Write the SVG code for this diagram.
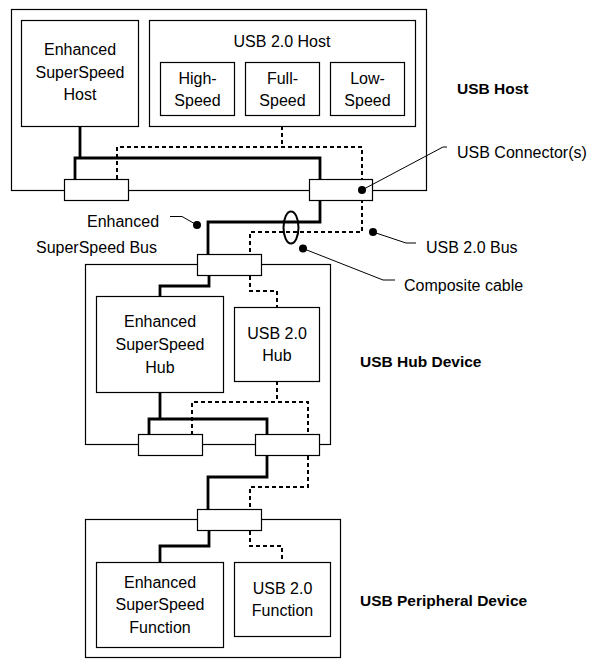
<svg xmlns="http://www.w3.org/2000/svg" width="608" height="667" viewBox="0 0 608 667">
<style>
.box{fill:#fff;stroke:#000;stroke-width:1.2}
.t{font-family:"Liberation Sans",Arial,sans-serif;font-size:16px;fill:#000}
.c{text-anchor:middle}
.b{font-weight:bold;font-size:15.5px}
.thick{fill:none;stroke:#000;stroke-width:2.8}
.dash{fill:none;stroke:#000;stroke-width:2;stroke-dasharray:4,3}
.lead{fill:none;stroke:#000;stroke-width:1}
.dot{fill:#000}
</style>
<rect width="608" height="667" fill="#fff"/>
<g id="usb-host">
<rect class="box" x="11.5" y="9.5" width="415" height="181"/>
<text class="t b" x="457" y="94">USB Host</text>
</g>
<g id="hub-device">
<rect class="box" x="85.5" y="264.5" width="245" height="180"/>
<text class="t b" x="360" y="367">USB Hub Device</text>
</g>
<g id="peripheral-device">
<rect class="box" x="85.5" y="519.5" width="255" height="138"/>
<text class="t b" x="360" y="606">USB Peripheral Device</text>
</g>
<g id="connectors">
<path class="thick" d="M80,126 V158 M75,180 V158 H320 V222 H208 V255"/>
<path class="dash" d="M282,126 V147 M117,179 V147 H362 V232 H250 V291 H277 V308"/>
<path class="thick" d="M209,275 V286 H160 V297"/>
<path class="thick" d="M160,392 V419 M149,435 V419 H267 V435"/>
<path class="dash" d="M277,381 V402 M192,435 V402 H308 V487 H250 V546 H282 V560"/>
<path class="thick" d="M267,455 V477 H208 V510"/>
<path class="thick" d="M209,530 V546 H160 V563"/>
</g>
<g id="host-connector-left"><rect class="box" x="64.5" y="179.5" width="64" height="21"/></g>
<g id="host-connector-right"><rect class="box" x="309.5" y="179.5" width="63" height="21"/></g>
<g id="hub-connector-top"><rect class="box" x="197.5" y="254.5" width="64" height="21"/></g>
<g id="hub-connector-left"><rect class="box" x="138.5" y="434.5" width="64" height="21"/></g>
<g id="hub-connector-right"><rect class="box" x="255.5" y="434.5" width="64" height="21"/></g>
<g id="peripheral-connector"><rect class="box" x="197.5" y="509.5" width="64" height="21"/></g>
<g id="ess-host">
<rect class="box" x="21.5" y="20.5" width="117" height="106"/>
<text class="t c" x="80" y="55">Enhanced</text>
<text class="t c" x="80" y="78">SuperSpeed</text>
<text class="t c" x="80" y="100">Host</text>
</g>
<g id="usb2-host">
<rect class="box" x="149.5" y="20.5" width="266" height="106"/>
<text class="t c" x="282" y="47">USB 2.0 Host</text>
</g>
<g id="high-speed">
<rect class="box" x="160.5" y="62.5" width="74" height="53"/>
<text class="t c" x="197.5" y="84">High-</text>
<text class="t c" x="197.5" y="106">Speed</text>
</g>
<g id="full-speed">
<rect class="box" x="245.5" y="62.5" width="74" height="53"/>
<text class="t c" x="282.5" y="84">Full-</text>
<text class="t c" x="282.5" y="106">Speed</text>
</g>
<g id="low-speed">
<rect class="box" x="330.5" y="62.5" width="74" height="53"/>
<text class="t c" x="367.5" y="84">Low-</text>
<text class="t c" x="367.5" y="106">Speed</text>
</g>
<g id="ess-hub">
<rect class="box" x="96.5" y="296.5" width="127" height="96"/>
<text class="t c" x="160" y="327">Enhanced</text>
<text class="t c" x="160" y="350">SuperSpeed</text>
<text class="t c" x="160" y="373">Hub</text>
</g>
<g id="usb2-hub">
<rect class="box" x="234.5" y="307.5" width="85" height="74"/>
<text class="t c" x="277" y="339">USB 2.0</text>
<text class="t c" x="277" y="361">Hub</text>
</g>
<g id="ess-function">
<rect class="box" x="96.5" y="562.5" width="127" height="85"/>
<text class="t c" x="160" y="588">Enhanced</text>
<text class="t c" x="160" y="610">SuperSpeed</text>
<text class="t c" x="160" y="633">Function</text>
</g>
<g id="usb2-function">
<rect class="box" x="234.5" y="562.5" width="96" height="74"/>
<text class="t c" x="282.5" y="594">USB 2.0</text>
<text class="t c" x="282.5" y="616">Function</text>
</g>
<g id="cable">
<ellipse cx="291" cy="227.5" rx="7.5" ry="16" fill="none" stroke="#000" stroke-width="2"/>
</g>
<g id="labels">
<circle class="dot" cx="362" cy="190" r="4"/>
<path class="lead" d="M362,190 L443,147 H447"/>
<text class="t" x="457" y="158">USB Connector(s)</text>
<circle class="dot" cx="197" cy="225" r="4"/>
<path class="lead" d="M170,216.5 H182 L197,225"/>
<text class="t" x="87" y="227">Enhanced</text>
<text class="t" x="36" y="253">SuperSpeed Bus</text>
<circle class="dot" cx="373" cy="232" r="4"/>
<path class="lead" d="M373,232 L406,243 H416"/>
<text class="t" x="426" y="253">USB 2.0 Bus</text>
<circle class="dot" cx="303" cy="248.5" r="4"/>
<path class="lead" d="M303,248.5 L383,280 H395"/>
<text class="t" x="404" y="291">Composite cable</text>
</g>
</svg>
